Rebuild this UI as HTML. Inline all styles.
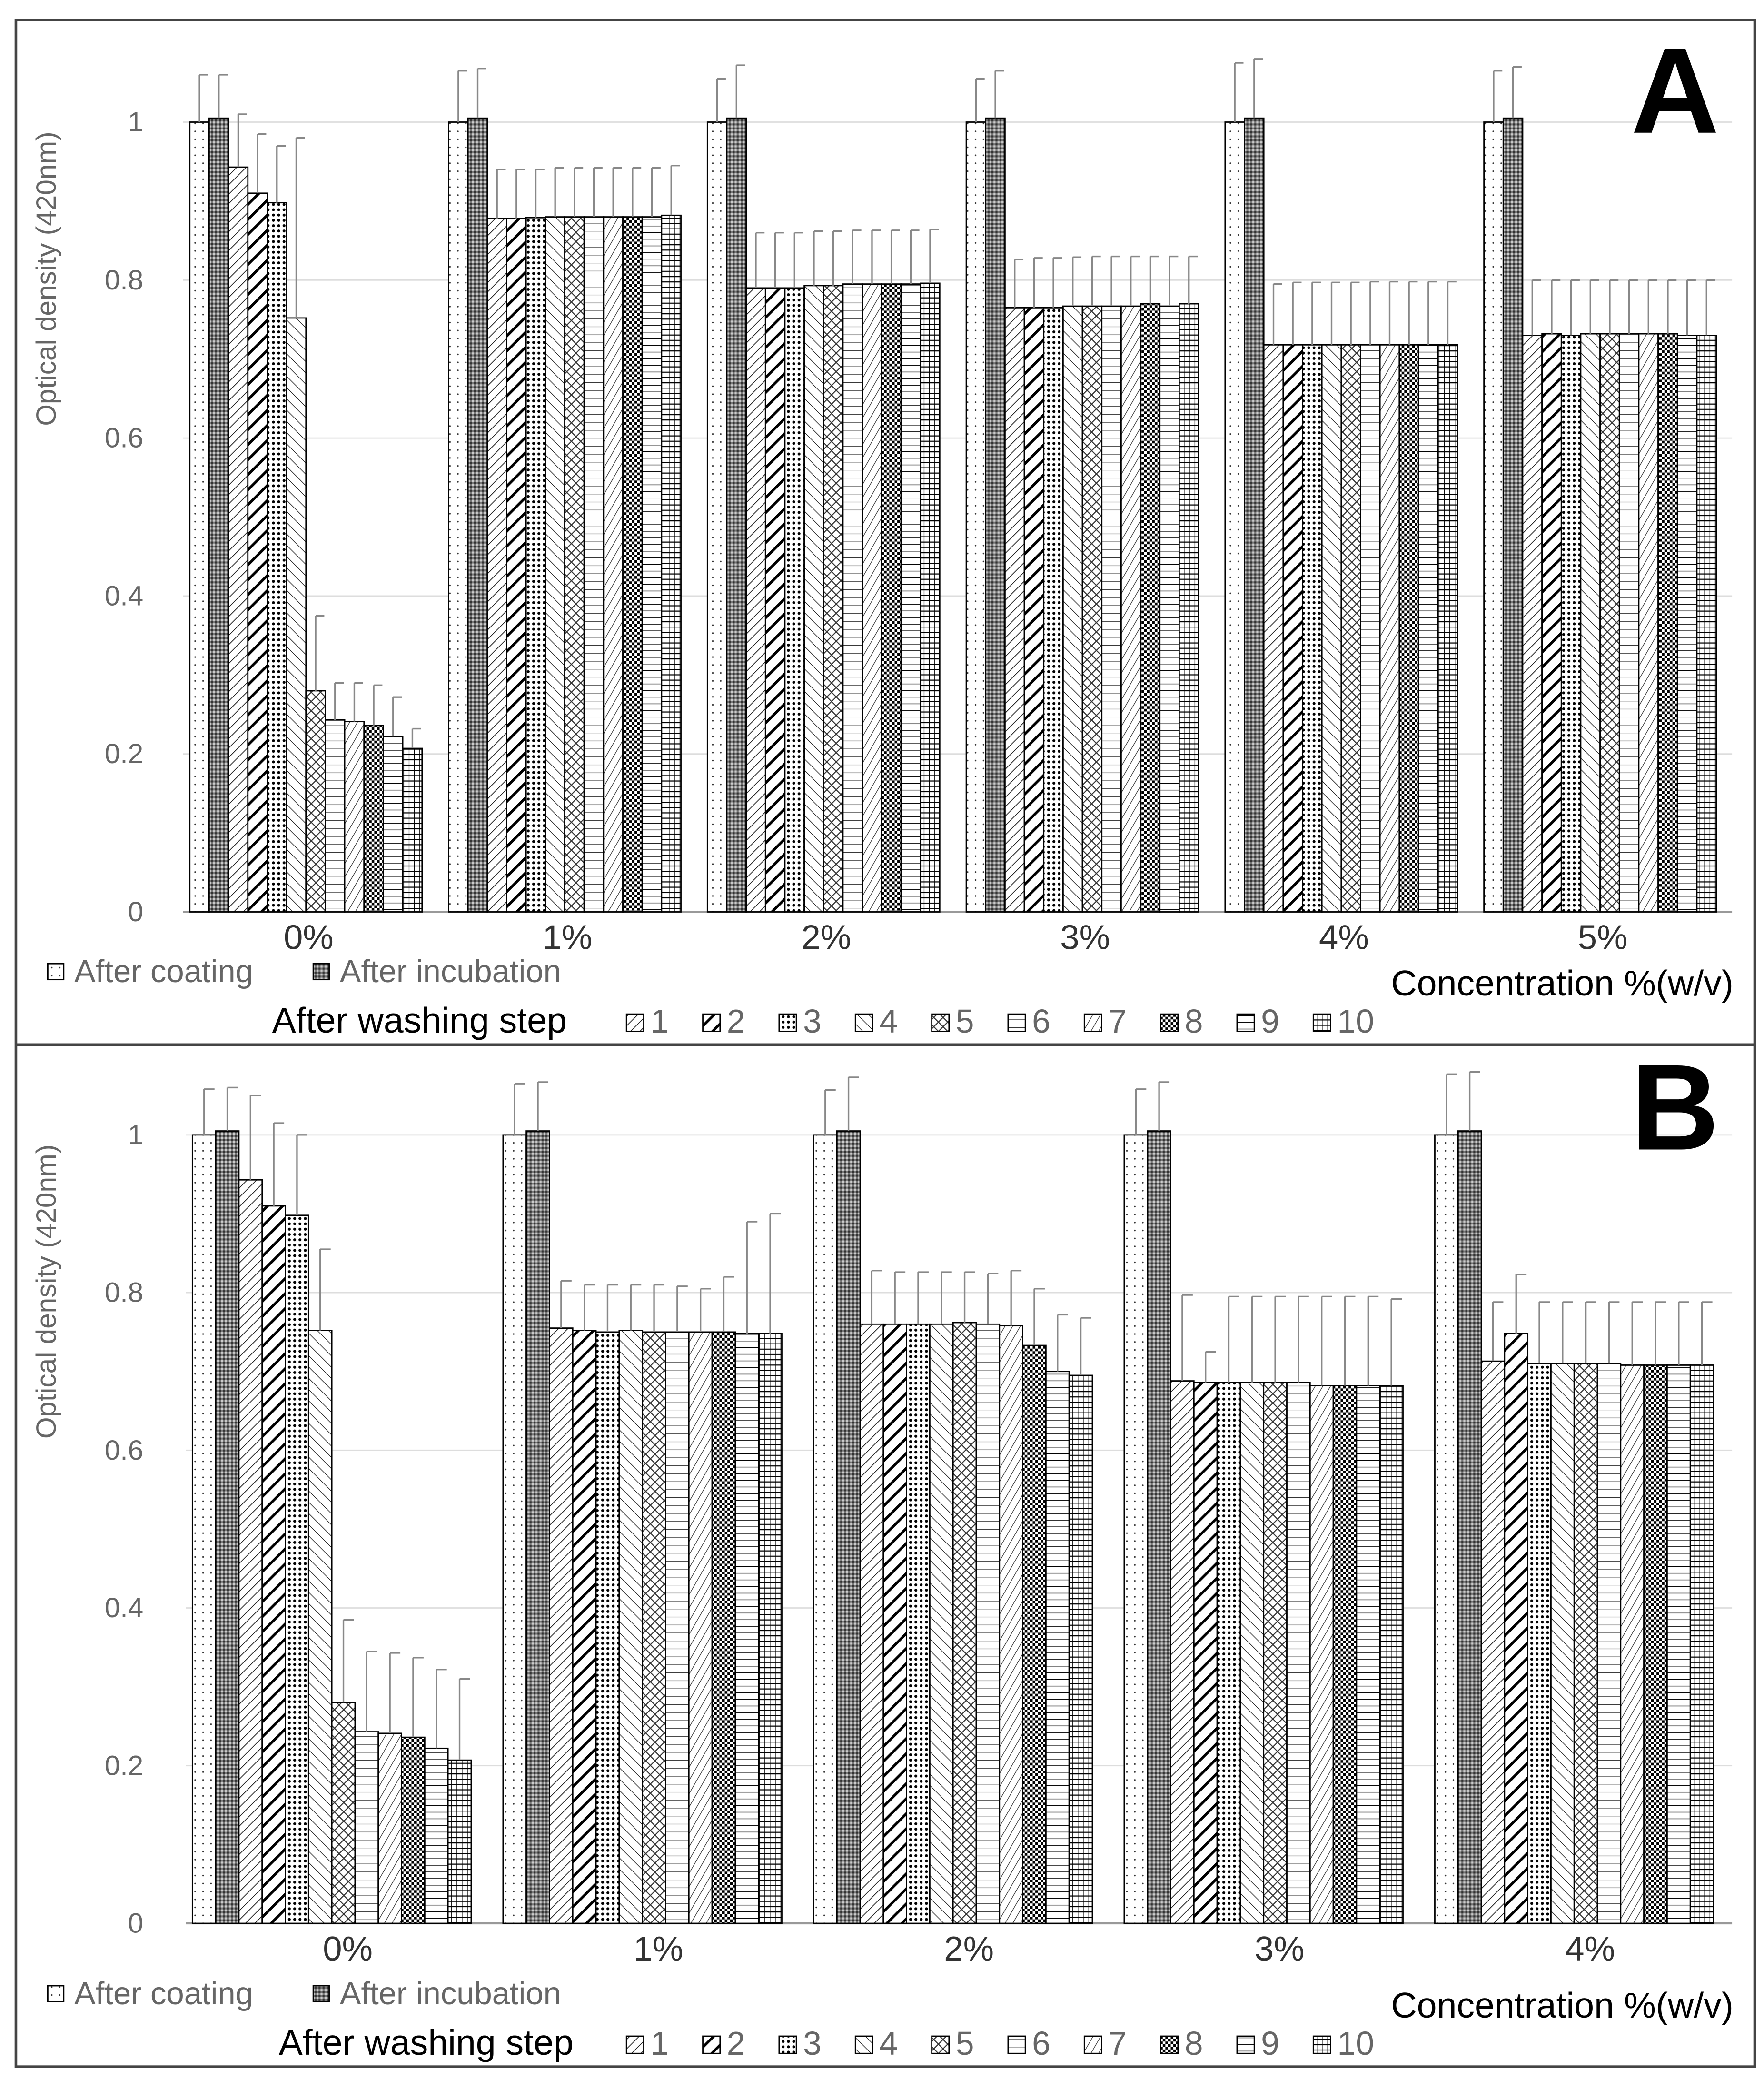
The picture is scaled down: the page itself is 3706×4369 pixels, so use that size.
<!DOCTYPE html>
<html><head><meta charset="utf-8">
<style>
html,body{margin:0;padding:0;background:#fff;}
svg{display:block;}
text{font-family:"Liberation Sans",sans-serif;}
</style></head>
<body>
<svg id="chart" width="3706" height="4369" viewBox="0 0 1329 1567" preserveAspectRatio="none" xmlns="http://www.w3.org/2000/svg">
<defs>
<pattern id="p0" width="6" height="6" patternUnits="userSpaceOnUse"><rect width="6" height="6" fill="#fff"/><circle cx="3" cy="3" r="0.6" fill="#333"/></pattern>
<pattern id="p1" width="3" height="3" patternUnits="userSpaceOnUse"><rect width="3" height="3" fill="#777"/><rect width="1.5" height="1.5" fill="#333"/><rect x="1.5" y="1.5" width="1.5" height="1.5" fill="#ccc"/></pattern>
<pattern id="p2" width="5" height="5" patternUnits="userSpaceOnUse" patternTransform="rotate(45)"><rect width="5" height="5" fill="#fff"/><line x1="0" y1="0" x2="0" y2="5" stroke="#222" stroke-width="1.2"/></pattern>
<pattern id="p3" width="8" height="8" patternUnits="userSpaceOnUse" patternTransform="rotate(45)"><rect width="8" height="8" fill="#fff"/><line x1="0" y1="0" x2="0" y2="8" stroke="#000" stroke-width="4"/></pattern>
<pattern id="p4" width="4" height="4" patternUnits="userSpaceOnUse"><rect width="4" height="4" fill="#fff"/><circle cx="2" cy="2" r="1.1" fill="#000"/></pattern>
<pattern id="p5" width="6" height="6" patternUnits="userSpaceOnUse" patternTransform="rotate(-45)"><rect width="6" height="6" fill="#fff"/><line x1="0" y1="0" x2="0" y2="6" stroke="#222" stroke-width="1"/></pattern>
<pattern id="p6" width="7" height="7" patternUnits="userSpaceOnUse"><rect width="7" height="7" fill="#fff"/><path d="M0 0L7 7M7 0L0 7" stroke="#333" stroke-width="0.8"/></pattern>
<pattern id="p7" width="6" height="6" patternUnits="userSpaceOnUse"><rect width="6" height="6" fill="#fff"/><line x1="0" y1="0" x2="6" y2="0" stroke="#333" stroke-width="0.8"/></pattern>
<pattern id="p8" width="5" height="5" patternUnits="userSpaceOnUse" patternTransform="rotate(30)"><rect width="5" height="5" fill="#fff"/><line x1="0" y1="0" x2="0" y2="5" stroke="#333" stroke-width="1"/></pattern>
<pattern id="p9" width="4" height="4" patternUnits="userSpaceOnUse"><rect width="4" height="4" fill="#fff"/><rect width="2" height="2" fill="#000"/><rect x="2" y="2" width="2" height="2" fill="#000"/></pattern>
<pattern id="p10" width="5" height="5" patternUnits="userSpaceOnUse"><rect width="5" height="5" fill="#fff"/><line x1="0" y1="0" x2="5" y2="0" stroke="#000" stroke-width="1"/></pattern>
<pattern id="p11" width="4" height="4" patternUnits="userSpaceOnUse"><rect width="4" height="4" fill="#fff"/><line x1="0" y1="0" x2="4" y2="0" stroke="#000" stroke-width="1.6"/><line x1="0" y1="0" x2="0" y2="4" stroke="#000" stroke-width="0.8"/></pattern>
</defs>
<rect x="0" y="0" width="1329" height="1567" fill="#fff"/>
<rect x="12" y="15" width="1310" height="1542" fill="none" stroke="#444" stroke-width="2"/>
<line x1="12" y1="787" x2="1322" y2="787" stroke="#444" stroke-width="2"/>
<g id="gA"></g>
<g id="gB"></g>
</svg>
<script>
const categoriesA = ["0%","1%","2%","3%","4%","5%"];
const valuesA = [
 [1,1.005,0.943,0.91,0.898,0.752,0.28,0.243,0.241,0.236,0.222,0.207],
 [1,1.005,0.878,0.878,0.879,0.88,0.88,0.88,0.88,0.88,0.88,0.882],
 [1,1.005,0.79,0.79,0.79,0.793,0.793,0.795,0.795,0.795,0.795,0.796],
 [1,1.005,0.765,0.765,0.765,0.767,0.767,0.767,0.767,0.77,0.767,0.77],
 [1,1.005,0.718,0.718,0.718,0.718,0.718,0.718,0.718,0.718,0.718,0.718],
 [1,1.005,0.73,0.732,0.73,0.732,0.732,0.732,0.732,0.732,0.73,0.73]
];
const topsA = [
 [1.06,1.06,1.01,0.985,0.97,0.98,0.375,0.29,0.29,0.287,0.272,0.232],
 [1.065,1.068,0.94,0.94,0.94,0.942,0.942,0.942,0.942,0.942,0.942,0.945],
 [1.055,1.072,0.86,0.86,0.86,0.862,0.862,0.863,0.863,0.863,0.863,0.864],
 [1.055,1.065,0.826,0.828,0.828,0.829,0.83,0.83,0.83,0.83,0.83,0.83],
 [1.075,1.08,0.795,0.797,0.797,0.797,0.797,0.798,0.798,0.798,0.798,0.798],
 [1.065,1.07,0.8,0.8,0.8,0.8,0.8,0.8,0.8,0.8,0.8,0.8]
];
const categoriesB = ["0%","1%","2%","3%","4%"];
const valuesB = [
 [1,1.005,0.943,0.91,0.898,0.752,0.28,0.243,0.241,0.236,0.222,0.207],
 [1,1.005,0.755,0.752,0.75,0.752,0.75,0.75,0.75,0.75,0.748,0.748],
 [1,1.005,0.76,0.76,0.76,0.76,0.762,0.76,0.758,0.733,0.7,0.695],
 [1,1.005,0.688,0.686,0.686,0.686,0.686,0.686,0.682,0.682,0.682,0.682],
 [1,1.005,0.713,0.748,0.71,0.71,0.71,0.71,0.708,0.708,0.708,0.708]
];
const topsB = [
 [1.058,1.06,1.05,1.015,1.0,0.855,0.385,0.345,0.343,0.337,0.322,0.31],
 [1.065,1.067,0.815,0.81,0.81,0.81,0.81,0.808,0.805,0.82,0.89,0.9],
 [1.057,1.073,0.828,0.826,0.826,0.826,0.826,0.824,0.828,0.805,0.772,0.768],
 [1.058,1.067,0.797,0.725,0.795,0.795,0.795,0.795,0.795,0.795,0.795,0.792],
 [1.077,1.08,0.788,0.823,0.788,0.788,0.788,0.788,0.788,0.788,0.788,0.788]
];
const yTicks = [0,0.2,0.4,0.6,0.8,1];
const yTickLabels = ["0","0.2","0.4","0.6","0.8","1"];
const washLabels = ["1","2","3","4","5","6","7","8","9","10"];

const NS="http://www.w3.org/2000/svg";
function mk(parent,tag,attrs,txt){const e=document.createElementNS(NS,tag);for(const k in attrs)e.setAttribute(k,attrs[k]);if(txt!==undefined)e.textContent=txt;parent.appendChild(e);return e;}

function drawPanel(g,cfg,cats,vals,tops){
  const y=v=>cfg.y0-(v)*(cfg.y0-cfg.y1);
  const plotL=cfg.plotL, plotR=cfg.plotR;
  yTicks.forEach((t,i)=>{
    const gl=mk(g,'line',{x1:plotL,x2:plotR,y1:y(t),y2:y(t),stroke:i===0?'#999':'#ddd','stroke-width':i===0?1.5:1});
    
    
    const tl=mk(g,'text',{x:108,y:y(t)+7,'text-anchor':'end','font-size':21,fill:'#666'},yTickLabels[i]);
    
    
  });
  const yt=mk(g,'text',{x:0,y:0,'text-anchor':'middle','font-size':21,fill:'#666',transform:`translate(42,${cfg.y1+118}) rotate(-90)`},'Optical density (420nm)');
  
  
  cats.forEach((c,ci)=>{
    const x0=cfg.start+ci*cfg.pitch;
    const bw=cfg.span/12;
    vals[ci].forEach((v,bi)=>{
      const bx=x0+bi*bw;
      const r=mk(g,'rect',{x:bx,y:y(v),width:bw,height:y(0)-y(v),fill:`url(#p${bi})`,stroke:'#000','stroke-width':1});
      
      
      const cx=bx+bw/2, ty=y(tops[ci][bi]);
      const e=mk(g,'path',{d:`M${cx} ${y(v)}V${ty}M${cx} ${ty}H${cx+bw*0.45}`,stroke:'#888','stroke-width':1.2,fill:'none'});
      
      
    });
    const cl=mk(g,'text',{x:x0+cfg.span/2+cfg.labOff,y:cfg.y0+28,'text-anchor':'middle','font-size':26,fill:'#333'},c);
    
    
  });
  const L=cfg.legY;
  const l1=mk(g,'g',{});
  
  
  mk(l1,'rect',{x:36,y:L-14,width:12,height:12,fill:'url(#p0)',stroke:'#000'});
  mk(l1,'text',{x:56,y:L,'font-size':24,fill:'#666'},'After coating');
  const l2=mk(g,'g',{});
  
  
  mk(l2,'rect',{x:236,y:L-14,width:12,height:12,fill:'url(#p1)',stroke:'#000'});
  mk(l2,'text',{x:256,y:L,'font-size':24,fill:'#666'},'After incubation');
  const xt=mk(g,'text',{x:1306,y:L+10,'text-anchor':'end','font-size':27,fill:'#000'},'Concentration %(w/v)');
  
  
  const wt=mk(g,'text',{x:cfg.washX,y:L+38,'font-size':27,fill:'#000'},'After washing step');
  
  
  washLabels.forEach((w,i)=>{
    const lg=mk(g,'g',{});
    
    
    const lx=472+i*57.5;
    mk(lg,'rect',{x:lx,y:L+24,width:13,height:13,fill:`url(#p${i+2})`,stroke:'#000'});
    mk(lg,'text',{x:lx+18,y:L+38,'font-size':25,fill:'#666'},w);
  });
  const pl=mk(g,'text',{x:1262,y:cfg.letterY,'text-anchor':'middle','font-size':92,'font-weight':'bold',fill:'#000'},cfg.letter);
  
  
}
drawPanel(document.getElementById('gA'),{y0:687,y1:92,plotL:138,plotR:1305,start:143,pitch:195,span:175,labOff:2,legY:740,washX:205,letter:'A',letterY:100},categoriesA,valuesA,topsA);
drawPanel(document.getElementById('gB'),{y0:1449,y1:855,plotL:140,plotR:1305,start:145,pitch:234,span:210,labOff:12,legY:1510,washX:210,letter:'B',letterY:866},categoriesB,valuesB,topsB);
</script>
</body></html>
